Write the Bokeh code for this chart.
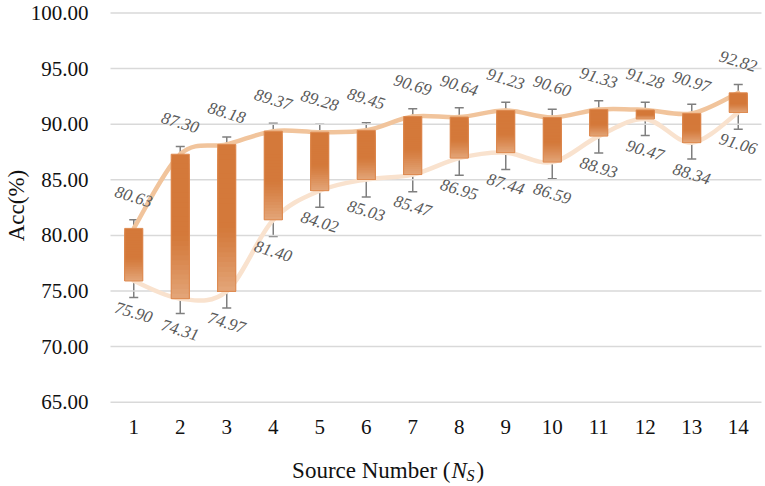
import numpy as np
from bokeh.plotting import figure
from bokeh.models import (Range1d, FixedTicker, NumeralTickFormatter, ColumnDataSource,
                          Whisker, TeeHead, Label)
from bokeh.core.properties import value
from bokeh.embed import file_html
from bokeh.resources import INLINE

# ---- data ----
source_number = [1, 2, 3, 4, 5, 6, 7, 8, 9, 10, 11, 12, 13, 14]
acc_high = [80.63, 87.30, 88.18, 89.37, 89.28, 89.45, 90.69, 90.64, 91.23, 90.60, 91.33, 91.28, 90.97, 92.82]
acc_low = [75.90, 74.31, 74.97, 81.40, 84.02, 85.03, 85.47, 86.95, 87.44, 86.59, 88.93, 90.47, 88.34, 91.06]
err_up = [0.77, 0.70, 0.68, 0.72, 0.72, 0.69, 0.71, 0.83, 0.75, 0.75, 0.77, 0.70, 0.83, 0.75]
err_down = [1.49, 1.34, 1.49, 1.50, 1.49, 1.57, 1.54, 1.53, 1.51, 1.50, 1.51, 1.49, 1.48, 1.51]
y_ticks = [65, 70, 75, 80, 85, 90, 95, 100]

# ---- layout (pixel positions of the plotting area on the canvas) ----
W, H = 764, 484
PL, PR, PT, PB = 110.0, 761.0, 12.5, 401.7
XA0, XA1 = 0.5, 14.5
YA0, YA1 = 65.0, 100.0
ppx = (PR - PL) / (XA1 - XA0)
ppy = (PB - PT) / (YA1 - YA0)
x_range = Range1d(XA0 - PL / ppx, XA1 + (W - PR) / ppx)
y_range = Range1d(YA0 - (H - PB) / ppy, YA1 + PT / ppy)


def cx(px):  # canvas x -> data x
    return XA0 + (px - PL) / ppx


def cy(py):  # canvas y -> data y
    return YA1 - (py - PT) / ppy


SERIF = "Liberation Serif"
BAR_TOP = np.array([0xD4, 0x79, 0x3A])
BAR_BOT = np.array([0xE4, 0xA7, 0x7A])
HIGH_LINE = "#F1C49C"
LOW_LINE = "#F9E2CE"
WHISK = "#7F7F7F"
LBL = "#595959"
GRID = "#D9D9D9"

p = figure(width=W, height=H, x_range=x_range, y_range=y_range,
           output_backend="svg", toolbar_location=None,
           min_border_left=0, min_border_right=0, min_border_top=0, min_border_bottom=0)
p.title.visible = False
p.outline_line_color = None
p.background_fill_color = "white"
p.border_fill_color = "white"
p.xgrid.visible = False
p.ygrid.visible = False

# horizontal gridlines across the category span
p.segment(x0=[XA0] * len(y_ticks), x1=[XA1] * len(y_ticks), y0=y_ticks, y1=y_ticks,
          line_color=GRID, line_width=1.5)

p.yaxis.ticker = FixedTicker(ticks=y_ticks)
p.yaxis.formatter = NumeralTickFormatter(format="0.00")
p.yaxis.fixed_location = XA0
p.xaxis.ticker = FixedTicker(ticks=source_number)
p.xaxis.fixed_location = YA0
for ax in (p.xaxis, p.yaxis):
    ax.axis_line_color = None
    ax.major_tick_line_color = None
    ax.minor_tick_line_color = None
    ax.major_label_text_font = SERIF
    ax.major_label_text_font_size = "21px"
    ax.major_label_text_color = "#111111"
p.yaxis.major_label_standoff = 16
p.xaxis.major_label_standoff = 12


# ---- smoothed lines (Catmull-Rom bezier from the data points) ----
def bezier_cols(xs, ys):
    xs = np.asarray(xs, float)
    ys = np.asarray(ys, float)
    n = len(xs)
    x0, y0, x1, y1, cx0, cy0, cx1, cy1 = ([] for _ in range(8))
    for i in range(n - 1):
        im = max(i - 1, 0)
        ip2 = min(i + 2, n - 1)
        x0.append(xs[i]); y0.append(ys[i]); x1.append(xs[i + 1]); y1.append(ys[i + 1])
        cx0.append(xs[i] + (xs[i + 1] - xs[im]) / 6)
        cy0.append(ys[i] + (ys[i + 1] - ys[im]) / 6)
        cx1.append(xs[i + 1] - (xs[ip2] - xs[i]) / 6)
        cy1.append(ys[i + 1] - (ys[ip2] - ys[i]) / 6)
    return dict(x0=x0, y0=y0, x1=x1, y1=y1, cx0=cx0, cy0=cy0, cx1=cx1, cy1=cy1)


for ys, col in ((acc_low, LOW_LINE), (acc_high, HIGH_LINE)):
    p.bezier(x0="x0", y0="y0", x1="x1", y1="y1", cx0="cx0", cy0="cy0", cx1="cx1", cy1="cy1",
             source=ColumnDataSource(bezier_cols(source_number, ys)),
             line_color=col, line_width=4.5, line_cap="round")

# ---- up/down bars with vertical gradient (overlapping slices, no gaps) ----
BW = 0.39
NSEG = 30
seg_l, seg_r, seg_t, seg_b, seg_c = [], [], [], [], []
for x, hi, lo in zip(source_number, acc_high, acc_low):
    edges = np.linspace(hi, lo, NSEG + 1)
    for k in range(NSEG):
        t = (k + 0.5) / NSEG
        f = 0.0 if t < 0.55 else ((t - 0.55) / 0.45) ** 1.2
        c = (BAR_TOP * (1 - f) + BAR_BOT * f).astype(int)
        seg_l.append(x - BW / 2); seg_r.append(x + BW / 2)
        seg_t.append(edges[k]); seg_b.append(lo)
        seg_c.append("#%02x%02x%02x" % tuple(c))
p.quad(left=seg_l, right=seg_r, top=seg_t, bottom=seg_b, fill_color=seg_c, line_color=None)
p.quad(left=[x - BW / 2 for x in source_number], right=[x + BW / 2 for x in source_number],
       top=acc_high, bottom=acc_low, fill_alpha=0, line_color="#DE8A50", line_width=1)

# ---- error bars ----
src = ColumnDataSource(dict(
    x=source_number, high=acc_high, low=acc_low,
    hu=[h + e for h, e in zip(acc_high, err_up)],
    ld=[l - e for l, e in zip(acc_low, err_down)]))
p.add_layout(Whisker(source=src, base="x", upper="hu", lower="high",
                     upper_head=TeeHead(size=9, line_color=WHISK, line_width=1.5),
                     lower_head=None, line_color=WHISK, line_width=1.5))
p.add_layout(Whisker(source=src, base="x", upper="low", lower="ld",
                     lower_head=TeeHead(size=9, line_color=WHISK, line_width=1.5),
                     upper_head=None, line_color=WHISK, line_width=1.5))

# ---- value labels ----
off = 31.5 / ppy
ang = -np.deg2rad(17)
p.text(x=source_number, y=[h + off for h in acc_high], text=["%.2f" % v for v in acc_high],
       angle=ang, text_align="center", text_baseline="middle", text_font=value(SERIF),
       text_font_style="italic", text_font_size="17px", text_color=LBL)
p.text(x=source_number, y=[l - off for l in acc_low], text=["%.2f" % v for v in acc_low],
       angle=ang, text_align="center", text_baseline="middle", text_font=value(SERIF),
       text_font_style="italic", text_font_size="17px", text_color=LBL)

# ---- axis titles ----
TY = 470
XA = 450
common = dict(text_font=SERIF, text_color="#111111", text_baseline="middle")
p.add_layout(Label(x=cx(XA), y=cy(TY), text="Source Number (", text_align="right",
                   text_font_size="23px", **common))
p.add_layout(Label(x=cx(XA + 1), y=cy(TY), text="N", text_align="left", text_font_size="23px",
                   text_font_style="italic", **common))
p.add_layout(Label(x=cx(XA + 16), y=cy(TY + 5), text="S", text_align="left",
                   text_font_size="16px", text_font_style="italic", **common))
p.add_layout(Label(x=cx(XA + 26), y=cy(TY), text=")", text_align="left",
                   text_font_size="23px", **common))
p.add_layout(Label(x=cx(16), y=cy(205), text="Acc(%)", angle=np.pi / 2, text_align="center",
                   text_font_size="23px", **common))

open("out.html", "w").write(file_html(p, INLINE))
